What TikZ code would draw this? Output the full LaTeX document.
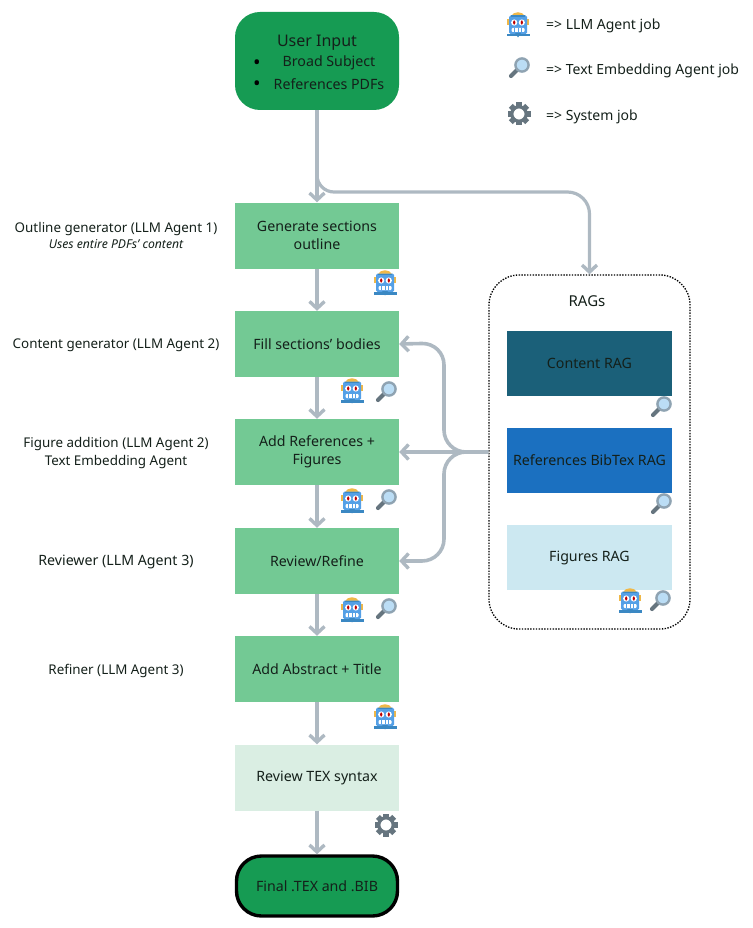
\documentclass[tikz,border=0pt]{standalone}
\usepackage{fontspec}
\setmainfont{Noto Sans}
\usetikzlibrary{arrows.meta}
\definecolor{strongg}{HTML}{169B53}
\definecolor{midg}{HTML}{73C994}
\definecolor{paleg}{HTML}{DAEEE3}
\definecolor{flowc}{HTML}{AEB9C2}
\definecolor{ragA}{HTML}{1B6079}
\definecolor{ragB}{HTML}{1B70C0}
\definecolor{ragC}{HTML}{CCE8F1}
\definecolor{ink}{HTML}{14201A}
\definecolor{robotblue}{HTML}{55A0E6}
\definecolor{robotdark}{HTML}{3B88C3}
\definecolor{robotgold}{HTML}{F0B848}
\definecolor{greyc}{HTML}{66757F}
\definecolor{lensc}{HTML}{BBDDF5}
\definecolor{rimc}{HTML}{8FA3B2}
\tikzset{
  x=1pt,y=-1pt,
  base/.style={font=\fontsize{14.2}{17.5}\selectfont,text=ink,align=center,inner sep=0pt},
  stepbox/.style={base,minimum width=164pt,minimum height=66pt,fill=midg},
  ragbox/.style={base,minimum width=165pt,minimum height=65pt},
  note/.style={base,font=\fontsize{13.4}{17.5}\selectfont},
  flow/.style={draw=flowc,line width=3.6pt,-{Straight Barb[length=7pt,width=15pt,line width=3.4pt]}},
  robot/.pic={
    \fill[robotgold] (-11,-6) rectangle (11,0);
    \fill[robotgold] (-7,-9) .. controls (-4,-14) and (4,-14) .. (7,-9) -- cycle;
    \fill[robotblue,rounded corners=1.5pt] (-9,-9.5) rectangle (9,9);
    \fill[robotdark] (-7,-9.5) rectangle (7,-8);
    \fill[white] (-3.8,-2.5) circle (3.1) (3.8,-2.5) circle (3.1);
    \fill[red!75!black] (-3.8,-2.5) ellipse (1.1 and 2.1) (3.8,-2.5) ellipse (1.1 and 2.1);
    \fill[white,rounded corners=1pt] (-6.5,3) rectangle (6.5,7);
    \foreach \k in {-3.5,0,3.5}{\fill[robotblue] (\k-.4,3) rectangle (\k+.4,7);}
    \fill[robotdark] (-11.5,9) rectangle (11.5,11.5);
    \fill[robotdark] (-3,8) -- (3,8) -- (0,12.5) -- cycle;
  },
  lens/.pic={
    \draw[greyc,line width=4.2pt,line cap=round] (-2,2) -- (-8,8);
    \draw[rimc,fill=lensc,line width=2.4pt] (3,-3) circle (6.6);
  },
  gear/.pic={
    \draw[greyc,line width=3.2pt] (0,0) circle (7.2);
    \foreach \a in {0,45,...,315}{\fill[greyc,rotate=\a] (-2.8,-11.5) rectangle (2.8,-8);}
  },
}
\begin{document}
\begin{tikzpicture}
\useasboundingbox (0,0) rectangle (752,928);

% main column
\node[base,fill=strongg,rounded corners=25pt,minimum width=164pt,minimum height=98pt] (input) at (317,61) {};
\node[base,font=\fontsize{16}{19}\selectfont] (inputtitle) at (317,42.5) {User Input};
\node[base,font=\fontsize{20}{20}\selectfont,text=black] (bulletA) at (257,65) {•};
\node[base,font=\fontsize{20}{20}\selectfont,text=black] (bulletB) at (257,86) {•};
\node[base] (itemA) at (329,63) {Broad Subject};
\node[base] (itemB) at (329,84) {References PDFs};

\node[stepbox] (gen) at (317,235.5) {Generate sections\\outline};
\node[stepbox] (fill) at (317,344) {Fill sections’ bodies};
\node[stepbox] (refs) at (317,452) {Add References +\\Figures};
\node[stepbox] (review) at (317,561) {Review/Refine};
\node[stepbox] (abstract) at (317,669) {Add Abstract + Title};
\node[stepbox,fill=paleg] (syntax) at (317,777.5) {Review TEX syntax};
\node[base,draw=black,line width=3.4pt,fill=strongg,rounded corners=25pt,minimum width=161pt,minimum height=60pt] (final) at (317,886) {Final .TEX and .BIB};

% RAG panel
\node[draw=black,line width=1.3pt,dash pattern=on 1.4pt off 1.4pt,rounded corners=30pt,minimum width=201pt,minimum height=354pt] (rags) at (589.5,452) {};
\node[base,font=\fontsize{15}{17}\selectfont] (ragtitle) at (587,301.5) {RAGs};
\node[ragbox,fill=ragA] (ragcontent) at (589.5,363.5) {Content RAG};
\node[ragbox,fill=ragB] (ragbib) at (589.5,460.5) {References BibTex RAG};
\node[ragbox,fill=ragC] (ragfig) at (589.5,557.5) {Figures RAG};

% left labels
\node[note] (lab1) at (116,229) {Outline generator (LLM Agent 1)};
\node[note,font=\fontsize{12.2}{14}\selectfont\itshape] (lab1b) at (116,244) {Uses entire PDFs’ content};
\node[note] (lab2) at (116,345) {Content generator (LLM Agent 2)};
\node[note] (lab3) at (116,453) {Figure addition (LLM Agent 2)\\Text Embedding Agent};
\node[note,font=\fontsize{14.2}{17}\selectfont] (lab4) at (116,562) {Reviewer (LLM Agent 3)};
\node[note] (lab5) at (116,671) {Refiner (LLM Agent 3)};

% legend
\node[base,anchor=west,font=\fontsize{14}{17}\selectfont] (legA) at (546,26) {=> LLM Agent job};
\node[base,anchor=west,font=\fontsize{14}{17}\selectfont] (legB) at (546,71) {=> Text Embedding Agent job};
\node[base,anchor=west,font=\fontsize{14}{17}\selectfont] (legC) at (546,116.5) {=> System job};

% connectors
\coordinate (branch) at (317,170);
\coordinate (elbowA) at (317,192);
\coordinate (elbowB) at (589.5,192);
\coordinate (railTop) at (444,343);
\coordinate (railBot) at (444,561);
\coordinate (railMid) at (444,452);
\draw[flow] (input.south) -- (gen.north);
\draw[flow,line width=3.2pt,rounded corners=17pt] (branch) -- (elbowA) [rounded corners=22pt] -- (elbowB) -- (rags.north);
\draw[flow] (gen.south) -- (fill.north);
\draw[flow] (fill.south) -- (refs.north);
\draw[flow] (refs.south) -- (review.north);
\draw[flow] (review.south) -- (abstract.north);
\draw[flow] (abstract.south) -- (syntax.north);
\draw[flow] (syntax.south) -- (final.north);
\draw[flow] (rags.west) -- (refs.east);
\draw[flow,rounded corners=22pt] (rags.west) -- (railMid) -- (railTop) -- (fill.east);
\draw[flow,rounded corners=22pt] (rags.west) -- (railMid) -- (railBot) -- (review.east);

% icons
\pic at (385,283) {robot};
\pic at (352,391) {robot};
\pic at (352,501) {robot};
\pic at (352,610) {robot};
\pic at (385,717) {robot};
\pic at (630,601) {robot};
\pic at (518,25) {robot};
\pic at (386,392) {lens};
\pic at (386,500) {lens};
\pic at (386,609) {lens};
\pic at (661,407) {lens};
\pic at (661,504) {lens};
\pic at (660,601) {lens};
\pic at (519,68) {lens};
\pic at (386,825) {gear};
\pic at (519,114) {gear};
\end{tikzpicture}
\end{document}
